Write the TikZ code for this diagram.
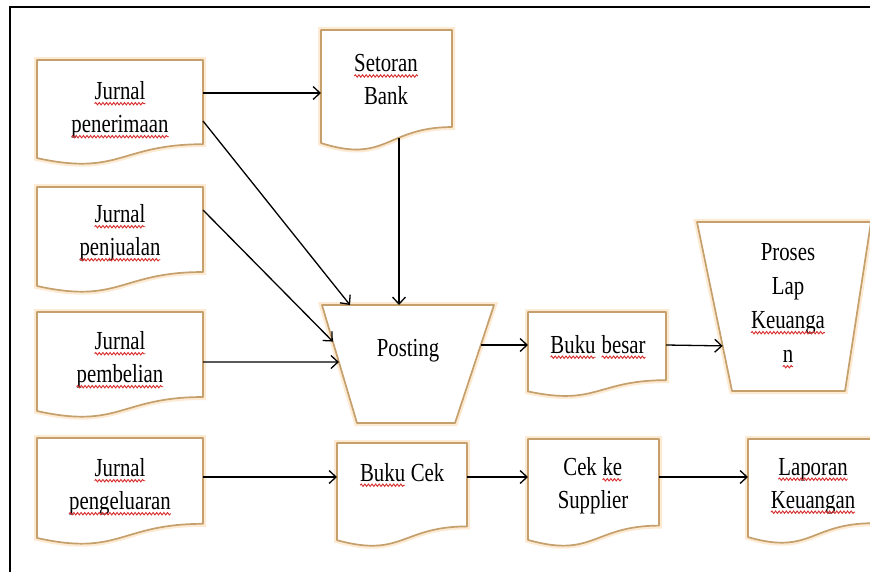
\documentclass[tikz,border=0pt]{standalone}
\usepackage{fontspec}
\setmainfont{Liberation Serif}[FakeStretch=0.8]
\usetikzlibrary{calc,arrows.meta,decorations.pathmorphing}
\definecolor{docline}{RGB}{198,160,108}
\definecolor{docglow}{RGB}{253,234,210}
\definecolor{sqred}{RGB}{215,45,45}
\newcommand\sq[1]{\tikz[baseline=(sqw.base)]{\node[inner sep=0pt,outer sep=0pt] (sqw) {#1};
  \draw[sqred,line width=0.9pt,decorate,decoration={snake,amplitude=1.2pt,segment length=3.6pt}]
   ([yshift=-4pt]sqw.base west) -- ([yshift=-4pt]sqw.base east);}}
\tikzset{
  docshape/.style={draw=docline, line width=1.7pt, fill=white, line join=round,
    preaction={draw=docglow, line width=6pt}},
  boxnode/.style={shape=rectangle, draw=none, inner sep=0pt, outer sep=0pt},
  txt/.style={align=center, font=\fontsize{26}{33}\selectfont, inner sep=0pt},
  arr/.style={-{Straight Barb[length=7pt,width=13pt]}, line width=1.3pt, black},
  frame/.style={line width=2pt, black}
}
\newcommand\docnode[5]{%
  \node[boxnode, minimum width=#4pt, minimum height=#5pt] (#1) at ({#2+#4/2},{#3+#5/2}) {};
  \draw[docshape] (#1.north west) -- (#1.north east)
    -- ($(#1.north east)!0.802!(#1.south east)$)
    .. controls ($(#1.north)!0.802!(#1.south)$) and ($(#1.north)!1.108!(#1.south)$)
    .. ($(#1.north west)!0.934!(#1.south west)$) -- cycle;}
\begin{document}
\begin{tikzpicture}[x=1pt,y=-1pt]
\useasboundingbox (0,0) rectangle (870,571);
\clip (0,0) rectangle (870,571);
\fill[white] (0,0) rectangle (870,571);
\draw[frame] (10,575) -- (10,7) -- (875,7);

% document shapes
\docnode{jpen}{37}{60}{166}{105}
\docnode{jpenj}{37}{187}{166}{106}
\docnode{jpem}{37}{312}{166}{106}
\docnode{jpeng}{37}{438}{166}{107}
\docnode{setoran}{321}{30}{131}{121}
\docnode{bb}{528}{312}{138}{85}
\docnode{bc}{337}{443}{130}{104}
\docnode{cks}{528}{439}{131}{108}
\docnode{lap}{748}{439}{125}{105}

% manual operation shapes
\coordinate (ptl) at (322,305);
\coordinate (ptr) at (494,305);
\coordinate (pbr) at (455,423);
\coordinate (pbl) at (357,423);
\draw[docshape] (ptl) -- (ptr) -- (pbr) -- (pbl) -- cycle;
\coordinate (ltl) at (697,222);
\coordinate (ltr) at (871,222);
\coordinate (lbr) at (845,391);
\coordinate (lbl) at (732,391);
\draw[docshape] (ltl) -- (ltr) -- (lbr) -- (lbl) -- cycle;

% texts
\node[txt] (jpen-t) at (120,110) {\sq{Jurnal}\\\sq{penerimaan}};
\node[txt] (jpenj-t) at (120,233) {\sq{Jurnal}\\\sq{penjualan}};
\node[txt] (jpem-t) at (120,360) {\sq{Jurnal}\\\sq{pembelian}};
\node[txt] (jpeng-t) at (120,487) {\sq{Jurnal}\\\sq{pengeluaran}};
\node[txt] (setoran-t) at (386,80) {\sq{Setoran}\\Bank};
\node[txt] (post-t) at (408,351) {Posting};
\node[txt] (bb-t) at (598,347) {\sq{Buku} \sq{besar}};
\node[txt, font=\fontsize{26}{34}\selectfont] (proses-t) at (788,306) {Proses\\Lap\\\sq{Keuanga}\\\sq{n}};
\node[txt] (bc-t) at (402,475) {\sq{Buku} Cek};
\node[txt] (cks-t) at (593,486) {Cek \sq{ke}\\Supplier};
\node[txt] (lap-t) at (813,486) {\sq{Laporan}\\\sq{Keuangan}};

% connectors
\coordinate (s1) at ([yshift=19.5pt]jpen.east);
\draw[arr] (s1) -- (s1 -| setoran.west);
\draw[arr] ([yshift=-8.5pt]jpen.east) -- ($(ptl)!0.163!(ptr)$);
\draw[arr] ([yshift=30pt]jpenj.east) -- ($(ptl)!0.31!(pbl)$);
\coordinate (s4) at ([xshift=12.5pt,yshift=-47.5pt]setoran.center);
\draw[arr] (s4) -- (s4 |- ptl);
\draw[arr] ([yshift=3pt]jpem.east) -- ($(ptl)!0.483!(pbl)$);
\coordinate (s6) at ($(ptr)!0.339!(pbr)$);
\draw[arr] (s6) -- (s6 -| bb.west);
\draw[arr] (s6 -| bb.east) -- ($(ltl)!0.733!(lbl)$);
\coordinate (s8) at ([yshift=14.5pt]jpeng.east);
\draw[arr] (s8) -- (s8 -| bc.west);
\draw[arr] (s8 -| bc.east) -- (s8 -| cks.west);
\draw[arr] (s8 -| cks.east) -- (s8 -| lap.west);
\end{tikzpicture}
\end{document}
